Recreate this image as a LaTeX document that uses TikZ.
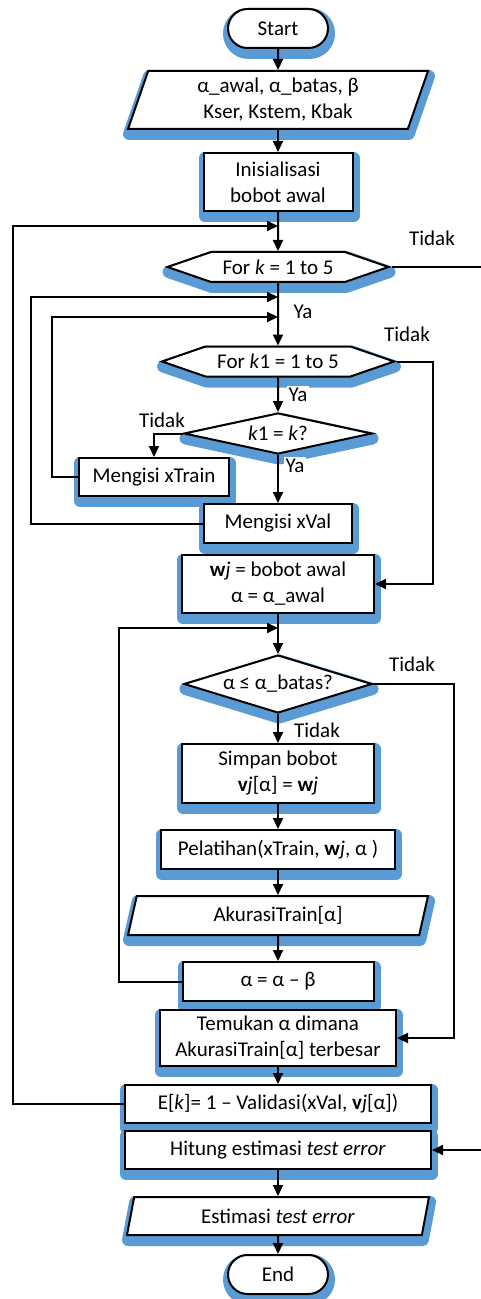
\documentclass[tikz,border=0pt]{standalone}
\usepackage{fontspec}
\setmainfont{Carlito}
\usetikzlibrary{shapes.geometric,shapes.misc,shapes.symbols,arrows.meta}
\definecolor{shadeblue}{RGB}{91,155,213}

\begin{document}
\begin{tikzpicture}[x=0.5pt,y=-0.5pt,line width=1pt,
  >={Triangle[width=5pt,length=5.5pt]},
  blueshadow/.style={preaction={draw=shadeblue,fill=shadeblue,line width=6pt,line join=round,
    transform canvas={xshift=0.5pt,yshift=-2.5pt}}},
  base/.style={blueshadow,draw,fill=white,inner sep=0pt,align=center,
    font=\fontsize{10.5}{13}\selectfont},
  procbox/.style={base,rectangle},
  term/.style={base,rounded rectangle,minimum width=50pt,minimum height=19.5pt},
  iobox/.style={base,trapezium,trapezium left angle=64,trapezium right angle=116,
    trapezium stretches body},
  loopbox/.style={base,signal,signal to=west and east,signal pointer angle=38,minimum height=15pt},
  decbox/.style={base,diamond},
  lbl/.style={fill=white,inner sep=1pt,font=\fontsize{10.5}{13}\selectfont}]
  \useasboundingbox (0,0) rectangle (481,1299);
  % boxes
  \node[term] (start) at (278,28.5) {Start};
  \node[iobox,minimum width=150pt,minimum height=29pt,trapezium left angle=65,trapezium right angle=115]
    (input) at (278,100) {α\_awal, α\_batas, β\\Kser, Kstem, Kbak};
  \node[procbox,minimum width=74.5pt,minimum height=29pt] (init) at (278,182) {Inisialisasi\\bobot awal};
  \node[loopbox,minimum width=110.5pt] (fork) at (278,267) {For \textit{k} = 1 to 5};
  \node[loopbox,minimum width=116pt] (forki) at (278,361.5) {For \textit{k}1 = 1 to 5};
  \node[decbox,aspect=4.6,minimum width=94pt,minimum height=20.5pt] (samek) at (278,433.5) {\textit{k}1 = \textit{k}?};
  \node[procbox,minimum width=75pt,minimum height=19pt] (train) at (154,477) {Mengisi xTrain};
  \node[procbox,minimum width=74pt,minimum height=19.5pt] (val) at (278,523.5) {Mengisi xVal};
  \node[procbox,minimum width=96pt,minimum height=29pt] (wset) at (278,584)
    {\textbf{w}\textit{j} = bobot awal\\α = α\_awal};
  \node[decbox,aspect=3.24,minimum width=94pt,minimum height=29pt] (cond) at (278,684) {α ≤ α\_batas?};
  \node[procbox,minimum width=96pt,minimum height=29.5pt] (save) at (278,773.5)
    {Simpan bobot\\\textbf{v}\textit{j}[α] = \textbf{w}\textit{j}};
  \node[procbox,minimum width=117pt,minimum height=19.5pt] (learn) at (278,849.5)
    {Pelatihan(xTrain, \textbf{w}\textit{j}, α )};
  \node[iobox,minimum width=150pt,minimum height=19.5pt] (acc) at (278,915.5) {AkurasiTrain[α]};
  \node[procbox,minimum width=95.5pt,minimum height=19.5pt] (decr) at (278,981.5) {α = α – β};
  \node[procbox,minimum width=118pt,minimum height=28pt] (best) at (278,1038)
    {Temukan α dimana\\AkurasiTrain[α] terbesar};
  \node[procbox,minimum width=153pt,minimum height=19pt] (err) at (278,1104)
    {E[\textit{k}]= 1 – Validasi(xVal, \textbf{v}\textit{j}[α])};
  \node[procbox,minimum width=153pt,minimum height=19pt] (calc) at (278,1150)
    {Hitung estimasi \textit{test error}};
  \node[iobox,minimum width=151pt,minimum height=19pt] (out) at (278,1216) {Estimasi \textit{test error}};
  \node[term] (stop) at (278,1274.5) {End};
  % join points
  \coordinate (jk) at (278,226);
  \coordinate (ja) at (278,297);
  \coordinate (jb) at (278,317);
  \coordinate (jc) at (278,628);
  \coordinate (outk) at (481,267);
  \coordinate (ink) at (481,1150);
  % flow
  \draw[->] (start) -- (input);
  \draw[->] (input) -- (init);
  \draw[->] (init) -- (fork);
  \draw (fork.east) -- (outk);
  \draw[->] (fork) -- (forki);
  \draw[->] (forki.east) -- ++(36,0) |- (wset.east);
  \draw[->] (forki) -- (samek);
  \draw[->] (samek.west) -| (train.north);
  \draw[->] (train.west) -- ++(-26,0) |- (jb);
  \draw[->] (samek) -- (val);
  \draw[->] (val.west) -- ++(-172,0) |- (ja);
  \draw[->] (wset) -- (cond);
  \draw[->] (cond.east) -- ++(81,0) |- (best.east);
  \draw[->] (cond) -- (save);
  \draw[->] (save) -- (learn);
  \draw[->] (learn) -- (acc);
  \draw[->] (acc) -- (decr);
  \draw[->] (decr.west) -- ++(-62.5,0) |- (jc);
  \draw[->] (best) -- (err);
  \draw[->] (err.west) -- ++(-111,0) |- (jk);
  \draw[->] (ink) -- (calc.east);
  \draw[->] (calc) -- (out);
  \draw[->] (out) -- (stop);
  % labels
  \node[lbl] (no1) at (432,238) {Tidak};
  \node[lbl] (yes1) at (303,312) {Ya};
  \node[lbl] (no2) at (407,334) {Tidak};
  \node[lbl] (yes2) at (298,395) {Ya};
  \node[lbl] (no3) at (162,420) {Tidak};
  \node[lbl] (yes3) at (295,466) {Ya};
  \node[lbl] (no4) at (412,664) {Tidak};
  \node[lbl] (no5) at (317,730) {Tidak};
\end{tikzpicture}
\end{document}
